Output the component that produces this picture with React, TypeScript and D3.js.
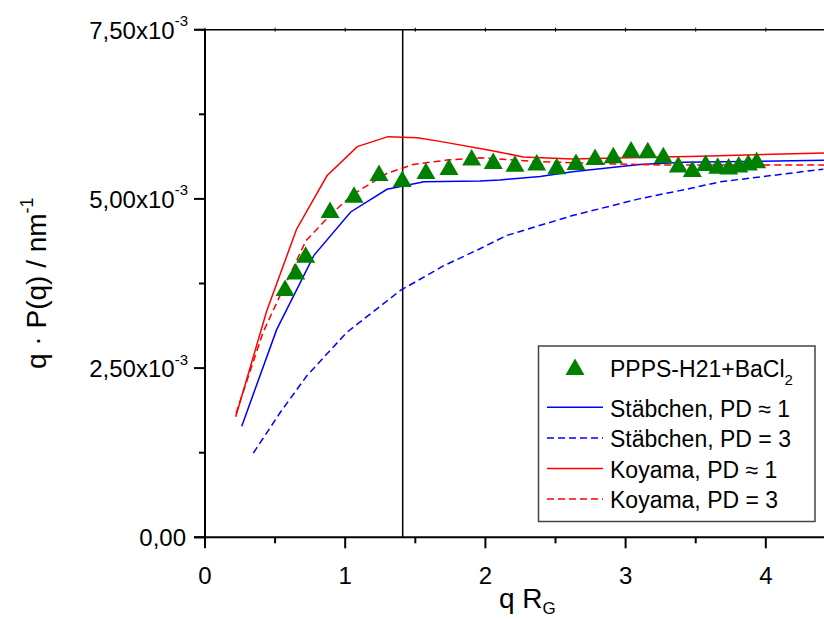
import React from "react";
import * as d3 from "d3";

// Measured data: PPPS-H21+BaCl2 (q·RG, q·P(q) in 1e-3 nm^-1)
const dataQ = [0.571,0.647,0.718,0.892,1.063,1.241,1.407,1.576,1.740,1.902,2.056,2.211,2.366,2.509,2.646,2.782,2.912,3.039,3.158,3.269,3.376,3.476,3.571,3.657,3.735,3.807,3.875,3.935];
const dataP = [3.689,3.932,4.178,4.841,5.064,5.386,5.297,5.415,5.475,5.617,5.564,5.524,5.542,5.487,5.549,5.623,5.647,5.734,5.721,5.647,5.513,5.445,5.534,5.494,5.484,5.513,5.543,5.573];

// Stäbchen, PD ≈ 1
const rod1Q = [0.262,0.511,0.777,1.039,1.298,1.562,1.961,2.104,2.39,2.62,3.10,3.41,4.415];
const rod1P = [1.641,3.068,4.166,4.807,5.142,5.252,5.264,5.28,5.33,5.40,5.51,5.54,5.57];
// Stäbchen, PD = 3
const rod3Q = [0.345,0.535,0.725,1.011,1.391,1.70,1.961,2.152,2.627,3.103,3.459,3.673,4.41];
const rod3P = [1.246,1.840,2.383,3.027,3.644,4.01,4.263,4.460,4.757,5.004,5.153,5.252,5.439];
// Koyama, PD ≈ 1
const koy1Q = [0.219,0.439,0.653,0.870,1.086,1.305,1.514,1.676,2.03,2.27,2.62,3.10,3.53,4.415];
const koy1P = [1.780,3.335,4.552,5.341,5.772,5.920,5.905,5.85,5.72,5.62,5.59,5.61,5.63,5.68];
// Koyama, PD = 3
const koy3Q = [0.221,0.414,0.535,0.72,0.899,1.058,1.296,1.484,1.724,1.961,2.39,2.87,3.3,4.415];
const koy3P = [1.829,3.027,3.570,4.381,4.774,5.071,5.375,5.509,5.573,5.608,5.55,5.52,5.50,5.50];

const xMajor = [0, 1, 2, 3, 4];
const xMinor = [0.5, 1.5, 2.5, 3.5];
const xTop = [0, 0.5, 1, 1.5, 2, 2.5, 3, 3.5, 4];
const yMajor = [0, 2.5, 5, 7.5];
const yMajorLabels = ["0,00", "2,50x10", "5,00x10", "7,50x10"];
const yMinor = [1.25, 3.75, 6.25];
const vLineQ = 1.41;

const legendItems = [
  { label: "Stäbchen, PD ≈ 1", color: "#0000ff", dash: null },
  { label: "Stäbchen, PD = 3", color: "#0000ff", dash: "7,4" },
  { label: "Koyama, PD ≈ 1", color: "#ff0000", dash: null },
  { label: "Koyama, PD = 3", color: "#ff0000", dash: "7,4" },
];

const font = "'Liberation Sans', Arial, sans-serif";

export default function App() {
  const x = d3.scaleLinear().domain([0, 4.415]).range([205, 824]);
  const y = d3.scaleLinear().domain([0, 7.5]).range([537.3, 29.7]);
  const line = d3
    .line<[number, number]>()
    .x((d) => x(d[0]))
    .y((d) => y(d[1]));
  const zip = (a: number[], b: number[]) => a.map((v, i) => [v, b[i]] as [number, number]);

  const curves = [
    { pts: zip(rod3Q, rod3P), color: "#0000ff", dash: "7,4" },
    { pts: zip(rod1Q, rod1P), color: "#0000ff", dash: null },
    { pts: zip(koy3Q, koy3P), color: "#ff0000", dash: "7,4" },
    { pts: zip(koy1Q, koy1P), color: "#ff0000", dash: null },
  ];

  const tri = (cx: number, cy: number, w = 19, h = 16.5) =>
    `M${cx},${cy - h / 2}L${cx + w / 2},${cy + h / 2}L${cx - w / 2},${cy + h / 2}Z`;

  const x0 = x(0);
  const yTop = y(7.5);
  const yBot = y(0);

  return (
    <svg
      width={824}
      height={619}
      style={{ position: "absolute", left: 0, top: 0, background: "#fff" }}
      fontFamily={font}
    >
      <rect x={0} y={0} width={824} height={619} fill="#fff" />
      {/* vertical marker line */}
      <line x1={x(vLineQ)} x2={x(vLineQ)} y1={yTop} y2={yBot} stroke="#000" strokeWidth={1.5} />

      {/* curves */}
      {curves.map((c, i) => (
        <path
          key={i}
          d={line(c.pts) || ""}
          fill="none"
          stroke={c.color}
          strokeWidth={1.5}
          strokeDasharray={c.dash || undefined}
        />
      ))}

      {/* data triangles */}
      {dataQ.map((q, i) => (
        <path key={i} d={tri(x(q), y(dataP[i]))} fill="#008000" />
      ))}

      {/* axes */}
      <line x1={x0} x2={x0} y1={yTop} y2={yBot} stroke="#000" strokeWidth={2} />
      <line x1={x0 - 11} x2={824} y1={yBot} y2={yBot} stroke="#000" strokeWidth={2} />
      <line x1={x0 - 11} x2={824} y1={yTop} y2={yTop} stroke="#000" strokeWidth={1.5} />
      {xTop.map((v) => (
        <line key={"t" + v} x1={x(v)} x2={x(v)} y1={yTop - 2} y2={yTop + 2} stroke="#000" strokeWidth={1} />
      ))}
      {xMajor.map((v) => (
        <g key={"xm" + v}>
          <line x1={x(v)} x2={x(v)} y1={yBot} y2={yBot + 11} stroke="#000" strokeWidth={2} />
          <text x={x(v)} y={yBot + 47} fontSize={24} textAnchor="middle" fill="#000">
            {String(v)}
          </text>
        </g>
      ))}
      {xMinor.map((v) => (
        <line key={"xn" + v} x1={x(v)} x2={x(v)} y1={yBot} y2={yBot + 6} stroke="#000" strokeWidth={2} />
      ))}
      {yMajor.map((v, i) => (
        <g key={"ym" + v}>
          <line x1={x0 - 11} x2={x0} y1={y(v)} y2={y(v)} stroke="#000" strokeWidth={2} />
          {i === 0 ? (
            <text x={186} y={y(v) + 9} fontSize={24} textAnchor="end" fill="#000">
              {yMajorLabels[i]}
            </text>
          ) : (
            <text x={188} y={y(v) + 9} fontSize={24} textAnchor="end" fill="#000">
              {yMajorLabels[i]}
              <tspan fontSize={15} dy={-12.5}>
                -3
              </tspan>
            </text>
          )}
        </g>
      ))}
      {yMinor.map((v) => (
        <line key={"yn" + v} x1={x0 - 6} x2={x0} y1={y(v)} y2={y(v)} stroke="#000" strokeWidth={2} />
      ))}

      {/* axis titles */}
      <text x={499} y={608} fontSize={28} fill="#000">
        q R<tspan fontSize={17} dy={6}>G</tspan>
      </text>
      <text transform="translate(46,369) rotate(-90)" fontSize={28} fill="#000">
        q · P(q) / nm<tspan fontSize={18} dy={-13}>-1</tspan>
      </text>

      {/* legend */}
      <rect x={538.5} y={346} width={276.5} height={175.5} fill="#fff" stroke="#444" strokeWidth={1.5} />
      <path d={tri(575, 366.7)} fill="#008000" />
      <text x={610} y={376.7} fontSize={23} fill="#000">
        PPPS-H21+BaCl<tspan fontSize={15} dy={8}>2</tspan>
      </text>
      {legendItems.map((it, i) => {
        const ly = 407.3 + i * 30.6;
        return (
          <g key={it.label}>
            <line
              x1={547}
              x2={603}
              y1={ly}
              y2={ly}
              stroke={it.color}
              strokeWidth={1.5}
              strokeDasharray={it.dash || undefined}
            />
            <text x={610} y={ly + 9.3} fontSize={23} fill="#000">
              {it.label}
            </text>
          </g>
        );
      })}
    </svg>
  );
}
